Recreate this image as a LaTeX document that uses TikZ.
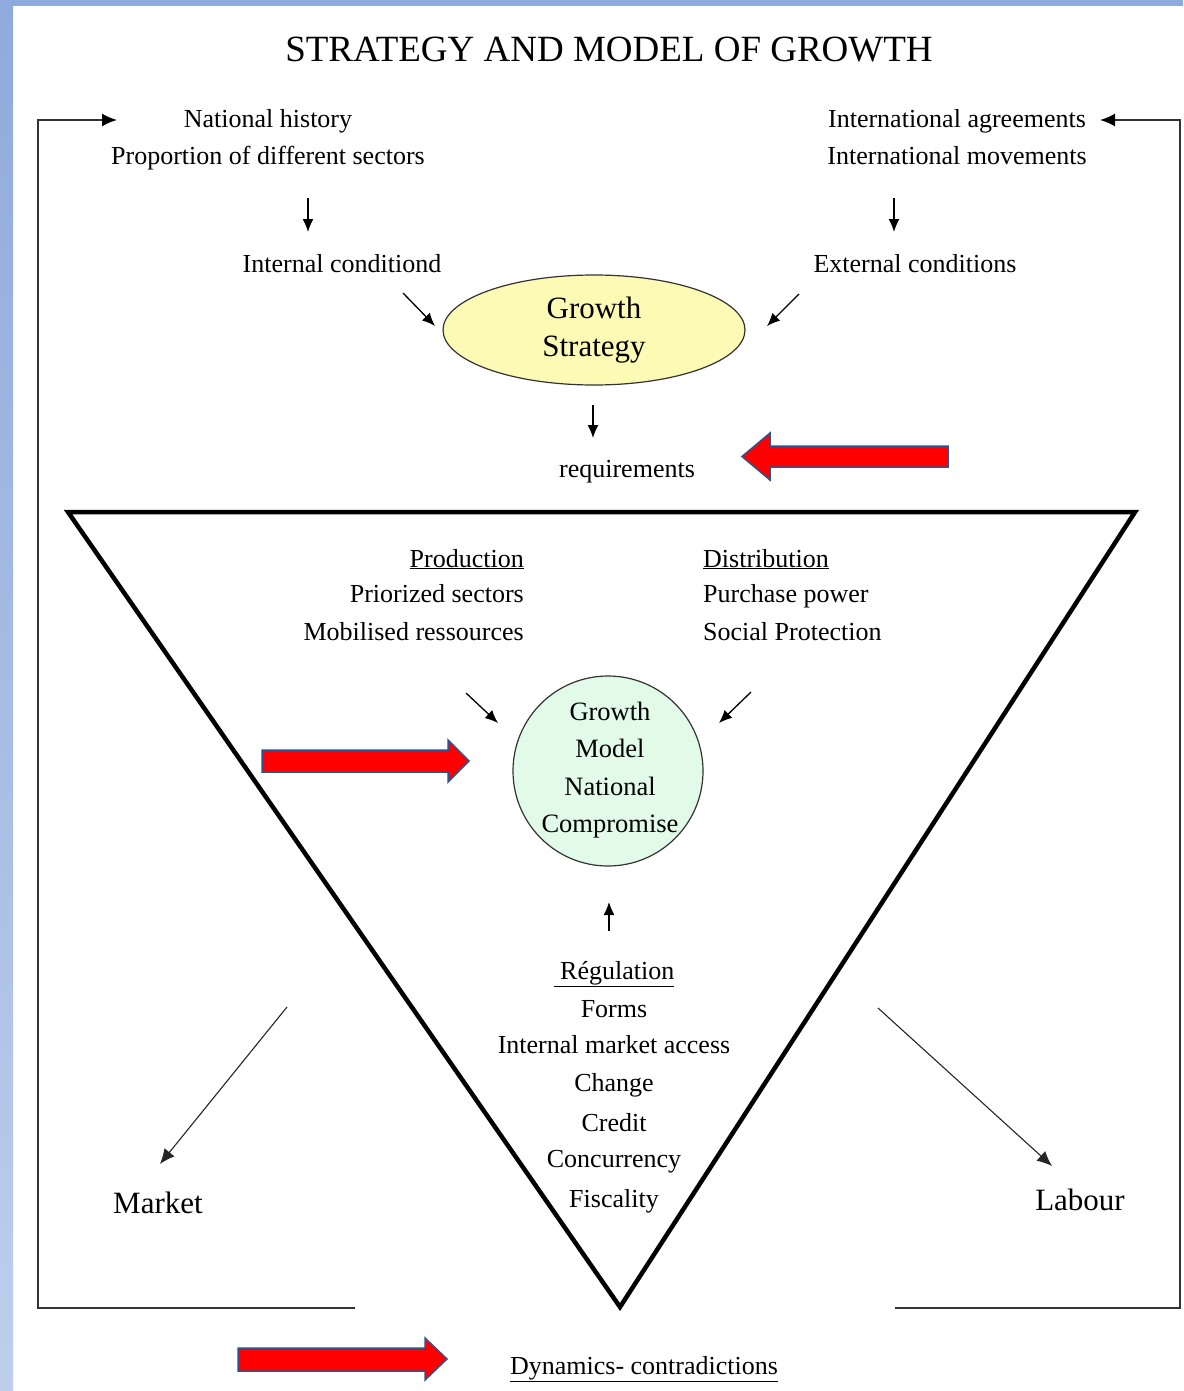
\documentclass[tikz,border=0pt]{standalone}
\usepackage{fontspec}
\setmainfont{Liberation Serif}
\usetikzlibrary{arrows.meta,shapes.geometric,calc}
\definecolor{bgtop}{RGB}{143,170,220}
\definecolor{bgbot}{RGB}{190,206,236}
\definecolor{ellfill}{RGB}{252,250,180}
\definecolor{circfill}{RGB}{226,250,232}
\definecolor{redfill}{RGB}{255,0,0}
\definecolor{blueedge}{RGB}{47,82,143}
\tikzset{
  txt/.style={font=\fontsize{26}{30}\selectfont, inner sep=0pt, text height=20pt, text depth=4pt},
  bigtxt/.style={font=\fontsize{31}{36}\selectfont, inner sep=0pt, text height=24pt, text depth=4pt},
  arr/.style={-{Latex[length=13pt,width=11pt]}, line width=1.3pt},
  thinarr/.style={-{Latex[length=15pt,width=13pt]}, line width=1.1pt, black!85},
  loopline/.style={line width=1.8pt, black!80},
  loophead/.style={-{Latex[length=15pt,width=13pt]}, line width=1.8pt},
  redblock/.style={fill=redfill, draw=blueedge, line width=1.5pt, line join=miter},
}
\begin{document}
\begin{tikzpicture}[x=1pt,y=-1pt]
\useasboundingbox (0,0) rectangle (1183,1391);
\fill[white] (0,0) rectangle (1183,1391);
\shade[top color=bgtop, bottom color=bgbot] (0,0) rectangle (13,1391);
\fill[bgtop] (0,0) rectangle (1183,6);

% title
\node[font=\fontsize{37}{42}\selectfont, inner sep=0pt] (title) at (609,50) {STRATEGY AND MODEL OF GROWTH};

% top left block
\node[txt] (nh) at (268,120) {National history};
\node[txt] (pd) at (268,157) {Proportion of different sectors};
\node[txt] (ic) at (342,264) {Internal conditiond};
% top right block
\node[txt] (ia) at (957,120) {International agreements};
\node[txt] (im) at (957,157) {International movements};
\node[txt] (ec) at (915,264) {External conditions};

% growth strategy ellipse
\node[ellipse, draw=black!80, line width=1.2pt, fill=ellfill, minimum width=302pt, minimum height=110pt, inner sep=0pt] (gs) at (594,330) {};
\node[align=center, font=\fontsize{31}{38}\selectfont, inner sep=0pt] (gst) at (594,330) {Growth\\Strategy};

\node[txt] (req) at (627,469) {requirements};

% small arrows
\coordinate (a1s) at (308,198); \coordinate (a1e) at (308,232);
\draw[arr] (a1s) -- (a1e);
\coordinate (a2s) at (894,198); \coordinate (a2e) at (894,232);
\draw[arr] (a2s) -- (a2e);
\coordinate (a3s) at (403,293); \coordinate (a3e) at (435,326);
\draw[arr] (a3s) -- (a3e);
\coordinate (a4s) at (799,294); \coordinate (a4e) at (767,326);
\draw[arr] (a4s) -- (a4e);
\coordinate (a5s) at (593,405); \coordinate (a5e) at (593,438);
\draw[arr] (a5s) -- (a5e);

% feedback loop
\coordinate (lb) at (355,1308); \coordinate (lc) at (38,1308); \coordinate (lt) at (38,120); \coordinate (le) at (117,120);
\draw[loopline] (lb) -- (lc) -- (lt) -- ($(le)+(-8,0)$);
\draw[loophead] ($(le)+(-10,0)$) -- (le);
\coordinate (rb) at (895,1308); \coordinate (rc) at (1180,1308); \coordinate (rt) at (1180,120); \coordinate (re) at (1100,120);
\draw[loopline] (rb) -- (rc) -- (rt) -- ($(re)+(8,0)$);
\draw[loophead] ($(re)+(10,0)$) -- (re);

% triangle
\coordinate (t1) at (68,512); \coordinate (t2) at (1135,512); \coordinate (t3) at (620,1307);
\draw[line width=4.5pt, line join=miter, miter limit=10] (t1) -- (t2) -- (t3) -- cycle;

% production / distribution
\node[txt, anchor=east] (prod) at (524,559) {\underline{Production}};
\node[txt, anchor=east] (ps) at (524,594) {Priorized sectors};
\node[txt, anchor=east] (mr) at (524,632) {Mobilised ressources};
\node[txt, anchor=west] (dist) at (703,559) {\underline{Distribution}};
\node[txt, anchor=west] (pp) at (703,594) {Purchase power};
\node[txt, anchor=west] (sp) at (703,632) {Social Protection};

% growth model circle
\node[circle, draw=black!80, line width=1.2pt, fill=circfill, minimum size=190pt] (gm) at (608,771) {};
\node[font=\fontsize{26.5}{37.5}\selectfont, align=center, inner sep=0pt] (gmt) at (610,770) {Growth\\Model\\National\\Compromise};

\coordinate (a6s) at (466,693); \coordinate (a6e) at (498,723);
\draw[arr] (a6s) -- (a6e);
\coordinate (a7s) at (751,692); \coordinate (a7e) at (719,723);
\draw[arr] (a7s) -- (a7e);
\coordinate (a8s) at (609,931); \coordinate (a8e) at (609,902);
\draw[arr] (a8s) -- (a8e);

% regulation
\node[txt] (reg) at (614,971) {\underline{\ Régulation}};
\node[txt] (r1) at (614,1009) {Forms};
\node[txt] (r2) at (614,1045) {Internal market access};
\node[txt] (r3) at (614,1083) {Change};
\node[txt] (r4) at (614,1123) {Credit};
\node[txt] (r5) at (614,1159) {Concurrency};
\node[txt] (r6) at (614,1199) {Fiscality};

% market / labour
\node[bigtxt] (mk) at (158,1203) {Market};
\node[bigtxt] (lab) at (1080,1200) {Labour};
\coordinate (a9s) at (287,1007); \coordinate (a9e) at (160,1164);
\draw[thinarr] (a9s) -- (a9e);
\coordinate (a10s) at (878,1008); \coordinate (a10e) at (1052,1166);
\draw[thinarr] (a10s) -- (a10e);

% dynamics
\node[txt] (dyn) at (644,1366) {\underline{Dynamics- contradictions}};

% red block arrows
\draw[redblock] (948,446) -- (770,446) -- (770,433) -- (742,456.5) -- (770,480) -- (770,467) -- (948,467) -- cycle;
\draw[redblock] (262,750) -- (448,750) -- (448,740) -- (469,761) -- (448,782) -- (448,772) -- (262,772) -- cycle;
\draw[redblock] (238,1348) -- (425,1348) -- (425,1338) -- (447,1359) -- (425,1380) -- (425,1371) -- (238,1371) -- cycle;
\end{tikzpicture}
\end{document}
